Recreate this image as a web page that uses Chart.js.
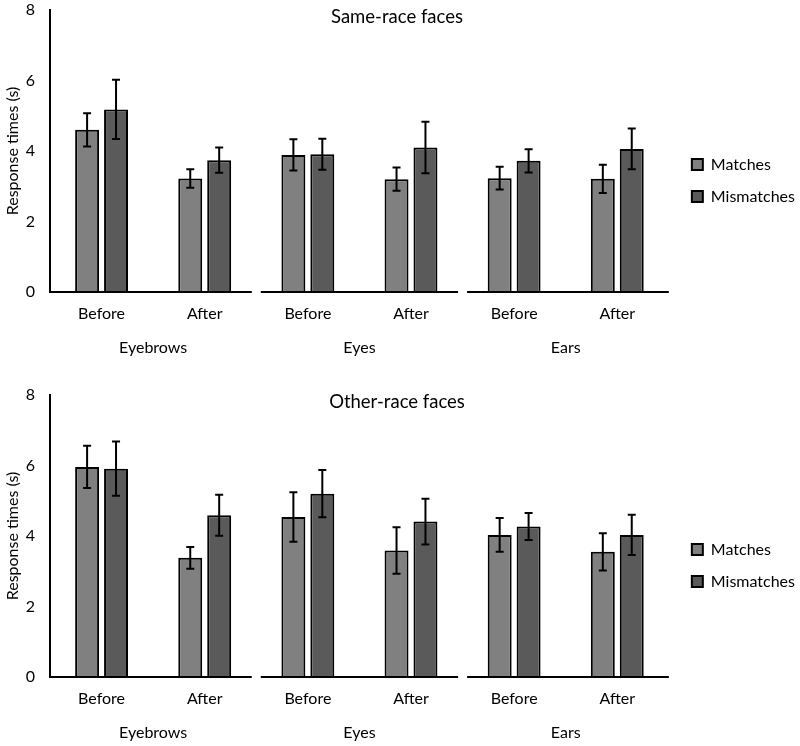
<!DOCTYPE html>
<html>
<head>
<meta charset="utf-8">
<script src="https://cdn.jsdelivr.net/npm/chart.js@4.4.0/dist/chart.umd.min.js"></script>
<style>
    html, body { margin: 0; padding: 0; background: #fff; }
    .panel { position: absolute; left: 0; width: 800px; height: 361px; }
    #top-panel { top: 0; }
    #bottom-panel { top: 385px; }
</style>
</head>
<body>
<div class="panel" id="top-panel"><canvas id="sameChart"></canvas></div>
<div class="panel" id="bottom-panel"><canvas id="otherChart"></canvas></div>
<script>
// --- Data ---
const conditions = ['Before', 'After', 'Before', 'After', 'Before', 'After'];
const features = ['Eyebrows', 'Eyes', 'Ears'];
const yTicks = [0, 2, 4, 6, 8];

// Same-race faces
const sameMatches = [4.60, 3.22, 3.89, 3.20, 3.23, 3.21];
const sameMatchesErr = [0.47, 0.26, 0.44, 0.33, 0.32, 0.40];
const sameMismatches = [5.18, 3.74, 3.91, 4.10, 3.72, 4.06];
const sameMismatchesErr = [0.84, 0.36, 0.44, 0.73, 0.33, 0.58];

// Other-race faces
const otherMatches = [5.96, 3.38, 4.54, 3.59, 4.03, 3.55];
const otherMatchesErr = [0.60, 0.31, 0.70, 0.66, 0.48, 0.53];
const otherMismatches = [5.91, 4.59, 5.20, 4.41, 4.27, 4.03];
const otherMismatchesErr = [0.77, 0.58, 0.67, 0.65, 0.38, 0.57];

const FONT = 'Lato, "Open Sans", sans-serif';

// --- Plugins ---

// error bars drawn from the y scale
const errorBars = {
    id: 'errorBars',
    afterDatasetsDraw(chart) {
        const ctx = chart.ctx;
        const yScale = chart.scales.y;
        ctx.save();
        ctx.strokeStyle = '#000';
        ctx.lineWidth = 2;
        chart.data.datasets.forEach((ds, di) => {
            const meta = chart.getDatasetMeta(di);
            meta.data.forEach((bar, i) => {
                const v = ds.data[i];
                const e = ds.errors[i];
                const yHi = yScale.getPixelForValue(v + e);
                const yLo = yScale.getPixelForValue(v - e);
                const x = bar.x;
                ctx.beginPath();
                ctx.moveTo(x, yHi); ctx.lineTo(x, yLo);
                ctx.moveTo(x - 4, yHi); ctx.lineTo(x + 4, yHi);
                ctx.moveTo(x - 4, yLo); ctx.lineTo(x + 4, yLo);
                ctx.stroke();
            });
        });
        ctx.restore();
    }
};

// x axis baseline broken between the feature groups
const groupBaseline = {
    id: 'groupBaseline',
    afterDatasetsDraw(chart) {
        const ctx = chart.ctx;
        const x = chart.scales.x;
        const y = chart.chartArea.bottom;
        const half = (x.getPixelForValue(1) - x.getPixelForValue(0)) / 2;
        const gap = 4.5;
        ctx.save();
        ctx.strokeStyle = '#000';
        ctx.lineWidth = 2;
        for (let g = 0; g < features.length; g++) {
            let left = x.getPixelForValue(g * 2) - half;
            let right = x.getPixelForValue(g * 2 + 1) + half;
            if (g > 0) left += gap;
            if (g < features.length - 1) right -= gap;
            ctx.beginPath();
            ctx.moveTo(left, y);
            ctx.lineTo(right, y);
            ctx.stroke();
        }
        ctx.restore();
    }
};

// panel heading, sits inside the plot area
const panelTitle = {
    id: 'panelTitle',
    afterDraw(chart, args, opts) {
        const ctx = chart.ctx;
        ctx.save();
        ctx.font = '18.5px ' + FONT;
        ctx.fillStyle = '#000';
        ctx.textAlign = 'center';
        ctx.textBaseline = 'middle';
        ctx.fillText(opts.text, chart.width / 2 - 3, 17);
        ctx.restore();
    }
};

function makeChart(canvasId, title, matches, matchesErr, mismatches, mismatchesErr) {
    const ctx = document.getElementById(canvasId).getContext('2d');
    return new Chart(ctx, {
        type: 'bar',
        data: {
            labels: conditions,
            datasets: [{
                label: 'Matches',
                data: matches,
                errors: matchesErr,
                backgroundColor: '#808080',
                borderColor: '#000',
                borderWidth: 2,
                categoryPercentage: 0.561,
                barPercentage: 0.828
            }, {
                label: 'Mismatches',
                data: mismatches,
                errors: mismatchesErr,
                backgroundColor: '#5a5a5a',
                borderColor: '#000',
                borderWidth: 2,
                categoryPercentage: 0.561,
                barPercentage: 0.828
            }]
        },
        options: {
            responsive: true,
            maintainAspectRatio: false,
            animation: false,
            layout: { padding: { top: 0, bottom: 0, left: 0, right: -5 } },
            scales: {
                y: {
                    min: 0,
                    max: 8,
                    afterBuildTicks: (scale) => { scale.ticks = yTicks.map(v => ({ value: v })); },
                    afterFit: (scale) => {
                        scale.width = 50;
                        // tick padding is horizontal here, don't let it push the plot down
                        scale.paddingTop = 10;
                        scale.paddingBottom = 10;
                    },
                    grid: { display: false, drawTicks: false },
                    border: { display: true, color: '#000', width: 2 },
                    ticks: { color: '#000', font: { family: FONT, size: 16 }, padding: 15 },
                    title: {
                        display: true,
                        text: 'Response times (s)',
                        color: '#000',
                        font: { family: FONT, size: 16 },
                        padding: { top: 3, bottom: 3 }
                    }
                },
                yGhost: {
                    position: 'right',
                    display: true,
                    grid: { display: false, drawTicks: false },
                    border: { display: false },
                    ticks: { display: false },
                    afterFit: (scale) => { scale.width = 7; }
                },
                x: {
                    grid: { display: false, drawTicks: false },
                    border: { display: false },
                    ticks: { color: '#000', font: { family: FONT, size: 16 }, padding: 12 },
                    afterFit: (scale) => { scale.height = 33; }
                },
                x2: {
                    type: 'category',
                    position: 'bottom',
                    labels: features,
                    offset: true,
                    grid: { display: false, drawTicks: false },
                    border: { display: false },
                    ticks: { color: '#000', font: { family: FONT, size: 16 }, padding: 13 },
                    afterFit: (scale) => { scale.height = 36; }
                }
            },
            plugins: {
                legend: {
                    position: 'right',
                    labels: {
                        color: '#000',
                        font: { family: FONT, size: 16 },
                        boxWidth: 11,
                        boxHeight: 11,
                        padding: 16
                    }
                },
                tooltip: { enabled: false },
                panelTitle: { text: title }
            }
        },
        plugins: [errorBars, groupBaseline, panelTitle]
    });
}

makeChart('sameChart', 'Same-race faces', sameMatches, sameMatchesErr, sameMismatches, sameMismatchesErr);
makeChart('otherChart', 'Other-race faces', otherMatches, otherMatchesErr, otherMismatches, otherMismatchesErr);
</script>
</body>
</html>
